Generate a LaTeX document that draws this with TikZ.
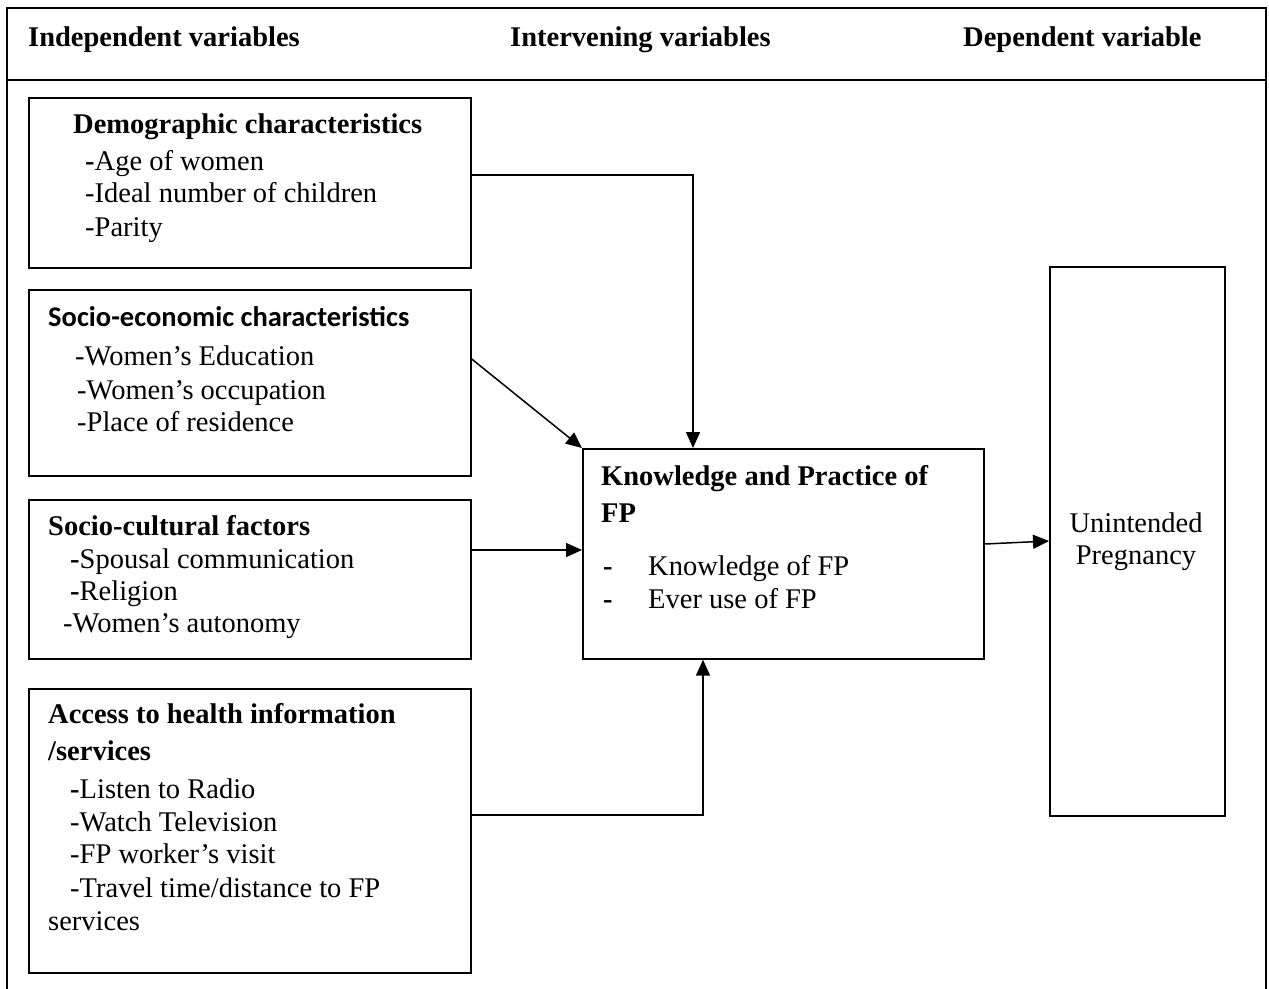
\documentclass[tikz,border=0pt]{standalone}
\usepackage{fontspec}
\setmainfont{Liberation Serif}
\newfontfamily\calfont{Carlito}
\usetikzlibrary{arrows.meta}
\begin{document}
\begin{tikzpicture}[x=1pt,y=-1pt,
  box/.style={draw, line width=1.7pt, inner sep=0pt, anchor=north west},
  txt/.style={inner sep=0pt, anchor=base west, font=\fontsize{28.5}{33}\selectfont},
  btxt/.style={inner sep=0pt, anchor=base west, font=\fontsize{28.5}{33}\selectfont\bfseries},
  ctxt/.style={inner sep=0pt, anchor=base, font=\fontsize{28.5}{33}\selectfont},
  arr/.style={line width=1.5pt, -{Triangle[length=16pt,width=14pt]}},
  frame/.style={line width=2pt}]
\useasboundingbox (0,0) rectangle (1269,988);
% outer frame
\draw[frame] (7,990) -- (7,8) -- (1266,8) -- (1266,990);
\draw[frame] (7,80) -- (1266,80);
% header
\node[btxt] (h1) at (28,46) {Independent variables};
\node[btxt] (h2) at (510,46) {Intervening variables};
\node[btxt] (h3) at (963,46) {Dependent variable};
% boxes
\node[box, minimum width=442pt, minimum height=170pt] (demo) at (28,97) {};
\node[box, minimum width=442pt, minimum height=186pt] (soc) at (28,289) {};
\node[box, minimum width=442pt, minimum height=159pt] (cult) at (28,499) {};
\node[box, minimum width=442pt, minimum height=284pt] (acc) at (28,688) {};
\node[box, minimum width=401pt, minimum height=210pt] (know) at (582,448) {};
\node[box, minimum width=175pt, minimum height=549pt] (unint) at (1049,266) {};
% demographic text
\node[btxt] (d0) at (73,133) {Demographic characteristics};
\node[txt] (d1) at (85,170) {\textbf{-}Age of women};
\node[txt] (d2) at (85,202) {-Ideal number of children};
\node[txt] (d3) at (85,236) {-Parity};
% socio-economic text
\node[inner sep=0pt, anchor=base west, font=\fontsize{28.5}{33}\selectfont\calfont\bfseries] (s0) at (48,326) {Socio-economic characteristics};
\node[txt] (s1) at (75,365) {-Women’s Education};
\node[txt] (s2) at (77,399) {-Women’s occupation};
\node[txt] (s3) at (77,431) {-Place of residence};
% socio-cultural text
\node[btxt] (c0) at (48,535) {Socio-cultural factors};
\node[txt] (c1) at (70,568) {\textbf{-}Spousal communication};
\node[txt] (c2) at (70,600) {\textbf{-}Religion};
\node[txt] (c3) at (63,632) {-Women’s autonomy};
% access text
\node[btxt] (a0) at (48,723) {Access to health information};
\node[btxt] (a1) at (48,760) {/services};
\node[txt] (a2) at (70,798) {\textbf{-}Listen to Radio};
\node[txt] (a3) at (70,831) {-Watch Television};
\node[txt] (a4) at (70,863) {-FP worker’s visit};
\node[txt] (a5) at (70,897) {-Travel time/distance to FP};
\node[txt] (a6) at (48,930) {services};
% knowledge text
\node[btxt] (k0) at (601,485) {Knowledge and Practice of};
\node[btxt] (k1) at (601,522) {FP};
\node[btxt] (k2) at (603,575) {-};
\node[txt] (k3) at (648,575) {Knowledge of FP};
\node[btxt] (k4) at (603,608) {-};
\node[txt] (k5) at (648,608) {Ever use of FP};
% unintended text
\node[ctxt] (u1) at (1136,532) {Unintended};
\node[ctxt] (u2) at (1136,564) {Pregnancy};
% connectors
\draw[arr] (demo.east |- 0,175) -| (know.north -| 693,0);
\draw[arr] (soc.east |- 0,359) -- (know.north west);
\draw[arr] (cult.east |- 0,550) -- (know.west |- 0,550);
\draw[arr] (acc.east |- 0,815) -| (know.south -| 703,0);
\draw[arr] (know.east |- 0,544) -- (unint.west |- 0,541);
\end{tikzpicture}
\end{document}
